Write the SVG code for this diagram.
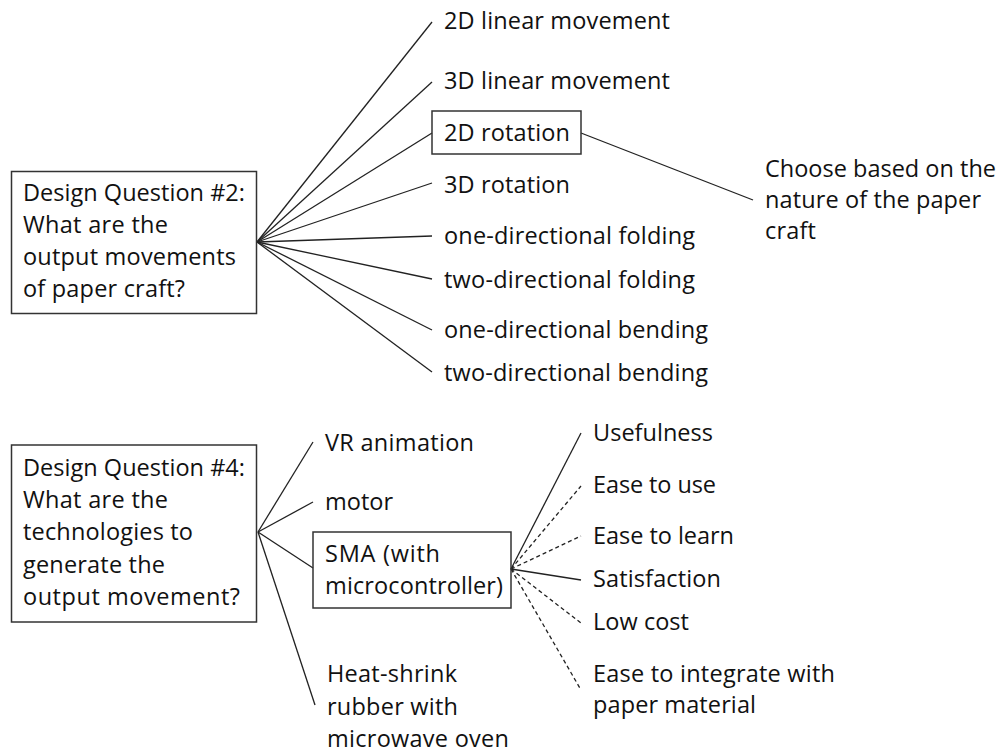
<svg xmlns="http://www.w3.org/2000/svg" width="1003" height="753" viewBox="0 0 1003 753">
  <style>
    text { font-family: "Open Sans", "Liberation Sans", Arial, sans-serif; font-size: 23.5px; fill: #111; }
    .box { fill: none; stroke: #333; stroke-width: 1.5; }
    .link { stroke: #222; stroke-width: 1.3; fill: none; }
    .dash { stroke-dasharray: 4 3; }
  </style>
  <rect width="1003" height="753" fill="#fff"/>

  <!-- connectors -->
  <g id="connectors">
    <!-- question 2 branches -->
    <line class="link" x1="257" y1="242" x2="432" y2="22"/>
    <line class="link" x1="257" y1="242" x2="432" y2="82"/>
    <line class="link" x1="257" y1="242" x2="432" y2="133"/>
    <line class="link" x1="257" y1="242" x2="432" y2="183"/>
    <line class="link" x1="257" y1="242" x2="432" y2="236"/>
    <line class="link" x1="257" y1="242" x2="432" y2="279"/>
    <line class="link" x1="257" y1="242" x2="432" y2="330"/>
    <line class="link" x1="257" y1="242" x2="432" y2="372"/>
    <line class="link" x1="581" y1="133" x2="753" y2="200"/>
    <!-- question 4 branches -->
    <line class="link" x1="258" y1="532" x2="313" y2="442"/>
    <line class="link" x1="258" y1="532" x2="313" y2="502"/>
    <line class="link" x1="258" y1="532" x2="313" y2="568"/>
    <line class="link" x1="258" y1="532" x2="315" y2="705"/>
    <!-- SMA criteria -->
    <line class="link" x1="511" y1="569" x2="581" y2="433"/>
    <line class="link dash" x1="511" y1="569" x2="581" y2="486"/>
    <line class="link dash" x1="511" y1="569" x2="581" y2="536"/>
    <line class="link" x1="511" y1="569" x2="581" y2="580"/>
    <line class="link dash" x1="511" y1="569" x2="581" y2="623"/>
    <line class="link dash" x1="511" y1="569" x2="581" y2="690"/>
  </g>

  <g id="q2">
    <rect class="box" x="11.5" y="171.5" width="245" height="142"/>
    <text x="23" y="201" textLength="222">Design Question #2:</text>
    <text x="23" y="233" textLength="145">What are the</text>
    <text x="23" y="265" textLength="213">output movements</text>
    <text x="23" y="297" textLength="162">of paper craft?</text>
  </g>
  <g id="m-2d-linear"><text x="444" y="29" textLength="226">2D linear movement</text></g>
  <g id="m-3d-linear"><text x="444" y="89" textLength="226">3D linear movement</text></g>
  <g id="m-2d-rotation">
    <rect class="box" x="432" y="111" width="149" height="43"/>
    <text x="444" y="141" textLength="126">2D rotation</text>
  </g>
  <g id="m-3d-rotation"><text x="444" y="193" textLength="126">3D rotation</text></g>
  <g id="m-one-fold"><text x="444" y="244" textLength="251">one-directional folding</text></g>
  <g id="m-two-fold"><text x="444" y="288" textLength="251">two-directional folding</text></g>
  <g id="m-one-bend"><text x="444" y="338" textLength="264">one-directional bending</text></g>
  <g id="m-two-bend"><text x="444" y="381" textLength="264">two-directional bending</text></g>
  <g id="choose">
    <text x="765" y="177" textLength="231">Choose based on the</text>
    <text x="765" y="208" textLength="216">nature of the paper</text>
    <text x="765" y="239" textLength="51">craft</text>
  </g>

  <g id="q4">
    <rect class="box" x="11.5" y="445" width="245" height="177"/>
    <text x="23" y="476" textLength="222">Design Question #4:</text>
    <text x="23" y="508" textLength="145">What are the</text>
    <text x="23" y="540" textLength="170">technologies to</text>
    <text x="23" y="573" textLength="142">generate the</text>
    <text x="23" y="605" textLength="217">output movement?</text>
  </g>
  <g id="t-vr"><text x="325" y="451" textLength="149">VR animation</text></g>
  <g id="t-motor"><text x="325" y="510" textLength="68">motor</text></g>
  <g id="t-sma">
    <rect class="box" x="313" y="532" width="198" height="76"/>
    <text x="325" y="562" textLength="115">SMA (with</text>
    <text x="325" y="594" textLength="178">microcontroller)</text>
  </g>
  <g id="t-heat">
    <text x="327" y="682" textLength="130">Heat-shrink</text>
    <text x="327" y="715" textLength="131">rubber with</text>
    <text x="327" y="747" textLength="182">microwave oven</text>
  </g>

  <g id="c-usefulness"><text x="593" y="441" textLength="120">Usefulness</text></g>
  <g id="c-ease-use"><text x="593" y="493" textLength="123">Ease to use</text></g>
  <g id="c-ease-learn"><text x="593" y="544" textLength="141">Ease to learn</text></g>
  <g id="c-satisfaction"><text x="593" y="587" textLength="128">Satisfaction</text></g>
  <g id="c-low-cost"><text x="593" y="630" textLength="96">Low cost</text></g>
  <g id="c-integrate">
    <text x="593" y="682" textLength="242">Ease to integrate with</text>
    <text x="593" y="713" textLength="163">paper material</text>
  </g>
</svg>
